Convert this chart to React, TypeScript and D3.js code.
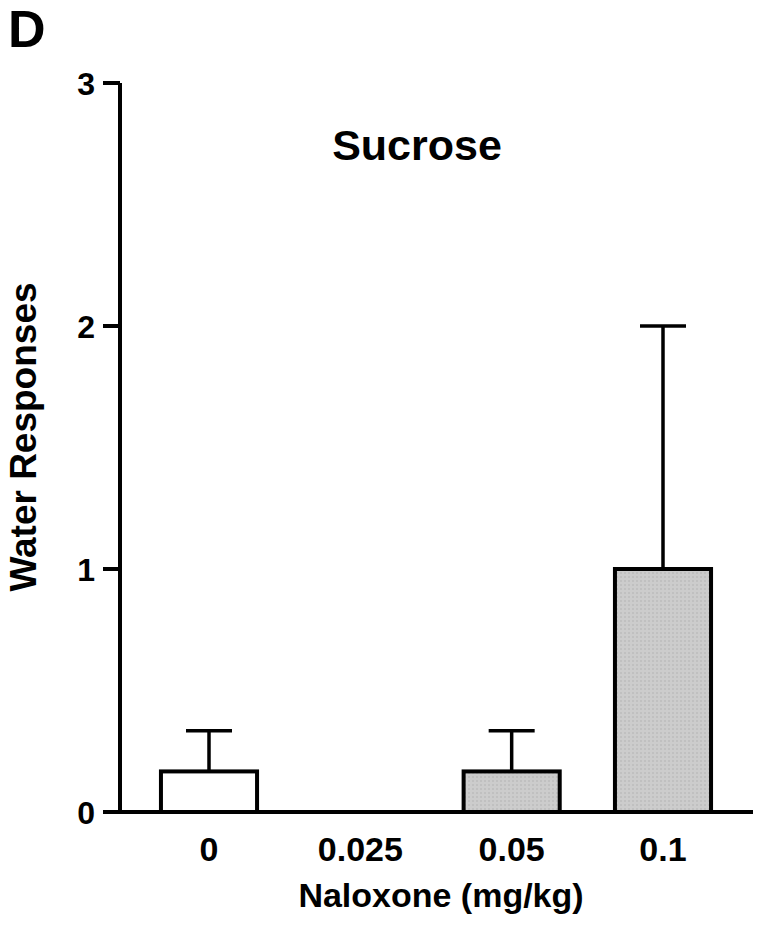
import React from "react";
import * as d3 from "d3";

const categories = ["0", "0.025", "0.05", "0.1"];
const means = [0.167, 0, 0.167, 1.0];
const sems = [0.167, 0, 0.167, 1.0];
const fills = ["white", "gray", "gray", "gray"];
const yTicks = [0, 1, 2, 3];

export default function App() {
  const W = 762, H = 932;
  const x = d3.scalePoint<string>().domain(categories).range([209, 663]);
  const y = d3.scaleLinear().domain([0, 3]).range([812, 83]);
  const bw = x.step() * 0.635;
  const capW = 46;
  const font = "'Liberation Sans', Arial, sans-serif";
  return (
    <svg width={W} height={H} style={{ position: "absolute", left: 0, top: 0 }}>
      <defs>
        <pattern id="dots" width="4" height="4" patternUnits="userSpaceOnUse">
          <rect width="4" height="4" fill="#cccccc" />
          <rect x="0" y="0" width="2" height="2" fill="#c0c0c0" />
        </pattern>
      </defs>
      <rect width={W} height={H} fill="white" />
      <text x={8} y={47} fontFamily={font} fontWeight="bold" fontSize={52}>D</text>
      <text x={417} y={160} textAnchor="middle" fontFamily={font} fontWeight="bold" fontSize={43}>Sucrose</text>
      {categories.map((c, i) => {
        const cx = x(c)!;
        const top = y(means[i]);
        const errTop = y(means[i] + sems[i]);
        if (means[i] <= 0) return null;
        return (
          <g key={c}>
            <line x1={cx} x2={cx} y1={top} y2={errTop} stroke="black" strokeWidth={3.5} />
            <line x1={cx - capW / 2} x2={cx + capW / 2} y1={errTop} y2={errTop} stroke="black" strokeWidth={3.5} />
            <rect x={cx - bw / 2} y={top} width={bw} height={y(0) - top}
              fill={fills[i] === "white" ? "white" : "url(#dots)"} stroke="black" strokeWidth={4} />
          </g>
        );
      })}
      <line x1={120} x2={120} y1={y(3)} y2={y(0)} stroke="black" strokeWidth={4} />
      <line x1={103} x2={753} y1={y(0)} y2={y(0)} stroke="black" strokeWidth={4} />
      {yTicks.map((t) => (
        <g key={t}>
          <line x1={103} x2={120} y1={y(t)} y2={y(t)} stroke="black" strokeWidth={4} />
          <text x={95} y={y(t) + 12} textAnchor="end" fontFamily={font} fontWeight="bold" fontSize={32}>{t}</text>
        </g>
      ))}
      {categories.map((c) => (
        <text key={c} x={x(c)!} y={861} textAnchor="middle" fontFamily={font} fontWeight="bold" fontSize={34}>{c}</text>
      ))}
      <text x={441} y={907} textAnchor="middle" fontFamily={font} fontWeight="bold" fontSize={34}>Naloxone (mg/kg)</text>
      <text transform={`translate(36,437) rotate(-90)`} textAnchor="middle" fontFamily={font} fontWeight="bold" fontSize={37}>Water Responses</text>
    </svg>
  );
}
